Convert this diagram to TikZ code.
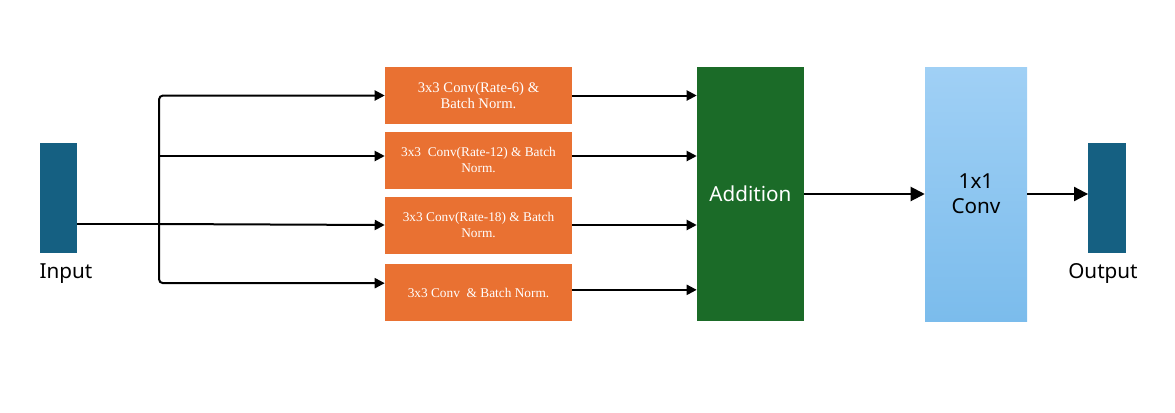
\documentclass[tikz,border=0pt]{standalone}
\usepackage{fontspec}
\setmainfont{Liberation Serif}
\newfontfamily\labelfont{Noto Sans}
\usepackage{tikz}
\usetikzlibrary{positioning,arrows.meta,shapes}
\usepackage{xcolor}

\definecolor{barblue}{HTML}{156082}
\definecolor{convorange}{HTML}{E97132}
\definecolor{addgreen}{HTML}{1B6B28}
\definecolor{lighttop}{HTML}{A0D0F5}
\definecolor{lightbottom}{HTML}{7BBCEC}

\begin{document}
\begin{tikzpicture}[
    x=0.75pt, y=-0.75pt,
    bar/.style={fill=barblue, minimum width=28pt, minimum height=82.5pt, inner sep=0pt},
    convbox/.style={fill=convorange, text=white, minimum width=140.25pt, minimum height=42.75pt,
        inner sep=0pt, align=center, font=\fontsize{10}{12.5}\selectfont},
    tag/.style={font=\labelfont\fontsize{15.5}{19}\selectfont},
    arrow/.style={line width=1.5pt, -{Triangle[length=7.5pt,width=7.5pt]}},
    bigarrow/.style={line width=1.5pt, -{Triangle[length=10.5pt,width=10.5pt]}}
]
\useasboundingbox (0,0) rectangle (1175,412);

% input and output
\node[bar] (in) at (58.5,198) {};
\node[tag, below=4pt of in.south west, anchor=north west, xshift=-3.5pt] {Input};
\node[bar] (out) at (1107,198) {};
\node[tag, below=4pt of out, xshift=-3pt] {Output};

% parallel convolutions
\node[convbox, font=\fontsize{11}{12.5}\selectfont] (b1) at (478.5,95.5) {3x3 Conv(Rate-6) \&\\Batch Norm.};
\node[convbox] (b2) at (478.5,160) {3x3\ \ Conv(Rate-12) \& Batch\\Norm.};
\node[convbox] (b3) at (478.5,225) {3x3 Conv(Rate-18) \& Batch\\Norm.};
\node[convbox] (b4) at (478.5,292.5) {3x3 Conv\ \ \& Batch Norm.};

% addition and 1x1 conv
\node[fill=addgreen, text=white, tag, minimum width=80.25pt, minimum height=190.5pt, inner sep=0pt]
    (add) at (750.5,194) {Addition};
\node[top color=lighttop, bottom color=lightbottom, tag, align=center, minimum width=76.5pt,
    minimum height=190.5pt, inner sep=0pt] (conv) at (976,194) {1x1\\Conv};

% branch points
\coordinate (split) at (159,224);
\coordinate (b2in) at ([yshift=3pt]b2.west);
\coordinate (b4in) at ([yshift=7pt]b4.west);
\coordinate (b2out) at ([yshift=3pt]b2.east);
\coordinate (b4out) at ([yshift=2pt]b4.east);

\draw[line width=1.5pt] (in.east |- split) -- (split);
\draw[arrow, rounded corners=3pt] (split) |- (b1.west);
\draw[arrow] (split |- b2in) -- (b2in);
\draw[arrow] (split) -- (b3.west);
\draw[arrow, rounded corners=3pt] (split) |- (b4in);

\draw[arrow] (b1.east) -- (b1.east -| add.west);
\draw[arrow] (b2out) -- (b2out -| add.west);
\draw[arrow] (b3.east) -- (b3.east -| add.west);
\draw[arrow] (b4out) -- (b4out -| add.west);

\draw[bigarrow] (add) -- (conv);
\draw[bigarrow] (conv.east) -- (conv.east -| out.west);
\end{tikzpicture}
\end{document}
